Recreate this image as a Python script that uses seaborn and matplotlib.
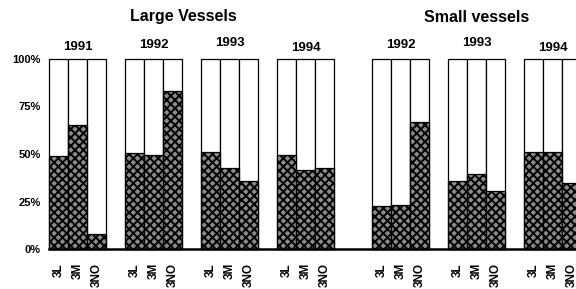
import matplotlib
matplotlib.use("Agg")
import matplotlib.pyplot as plt
import seaborn as sns
import pandas as pd

# ---- data ----
panels = ["Large Vessels", "Small vessels"]
large_years = ["1991", "1992", "1993", "1994"]
small_years = ["1992", "1993", "1994"]
divisions = ["3L", "3M", "3NO"]
large_pct = [
    [49, 65, 8],    # 1991
    [50.5, 49.5, 83],  # 1992
    [51, 42.5, 36],  # 1993
    [49.5, 41.5, 42.5],  # 1994
]
small_pct = [
    [22.5, 23, 67],  # 1992
    [36, 39.5, 30.5],  # 1993
    [51, 51, 35],    # 1994
]

# ---- build table ----
rows = []
group_starts = [0, 4, 8, 12, 17, 21, 25]
groups = [(panels[0], y, v) for y, v in zip(large_years, large_pct)] + \
         [(panels[1], y, v) for y, v in zip(small_years, small_pct)]
for start, (panel, year, vals) in zip(group_starts, groups):
    for j, (d, v) in enumerate(zip(divisions, vals)):
        rows.append(dict(panel=panel, year=year, division=d,
                         pos=start + j + 0.5, value=v, total=100.0))
df = pd.DataFrame(rows)

sns.set_theme(style="white")
plt.rcParams["font.family"] = ["Liberation Sans", "DejaVu Sans"]
plt.rcParams["font.weight"] = "bold"
plt.rcParams["hatch.linewidth"] = 1.4
plt.rcParams["text.color"] = "black"
plt.rcParams["xtick.color"] = "black"
plt.rcParams["ytick.color"] = "black"

W, H = 576, 289
fig = plt.figure(figsize=(W / 100, H / 100), dpi=100)
ax_left, ax_right, ax_top, ax_bottom = 49, 576, 59, 249
ax = fig.add_axes([ax_left / W, (H - ax_bottom) / H,
                   (ax_right - ax_left) / W, (ax_bottom - ax_top) / H])

sns.barplot(data=df, x="pos", y="total", native_scale=True, width=1,
            color="white", edgecolor="black", linewidth=0.9,
            errorbar=None, ax=ax, clip_on=False, saturation=1)
sns.barplot(data=df, x="pos", y="value", native_scale=True, width=1,
            color="#8a8a8a", edgecolor="black", linewidth=0.9, hatch="xxxx",
            errorbar=None, ax=ax, clip_on=False, saturation=1)

ax.set_xlim(0, (ax_right - ax_left) / 19.0)
ax.set_ylim(0, 100)
ax.set_xlabel("")
ax.set_ylabel("")
ax.set_xticks(df["pos"], df["division"], rotation=90, fontsize=8.5,
              fontweight="bold", va="top")
ax.set_yticks([0, 25, 50, 75, 100], ["0%", "25%", "50%", "75%", "100%"],
              fontsize=8, fontweight="bold")
ax.tick_params(axis="both", length=0)
ax.tick_params(axis="x", pad=10)
ax.tick_params(axis="y", pad=6)
for s in ["top", "right", "left"]:
    ax.spines[s].set_visible(False)
ax.spines["bottom"].set_linewidth(1.8)
ax.spines["bottom"].set_color("black")
ax.patch.set_alpha(0)

# year labels above each group
year_y = [106.3, 107.4, 108.4, 106.0, 107.4, 108.2, 106.0]
for start, (panel, year, vals), yy in zip(group_starts, groups, year_y):
    ax.text(start + 1.5, yy, year, ha="center", va="center",
            fontsize=9.5, fontweight="bold", clip_on=False)

fig.text(183 / W, 1 - 16 / H, panels[0], ha="center", va="center",
         fontsize=11.5, fontweight="bold")
fig.text(477 / W, 1 - 17 / H, panels[1], ha="center", va="center",
         fontsize=11.5, fontweight="bold")

fig.savefig("out.png", dpi=100)
